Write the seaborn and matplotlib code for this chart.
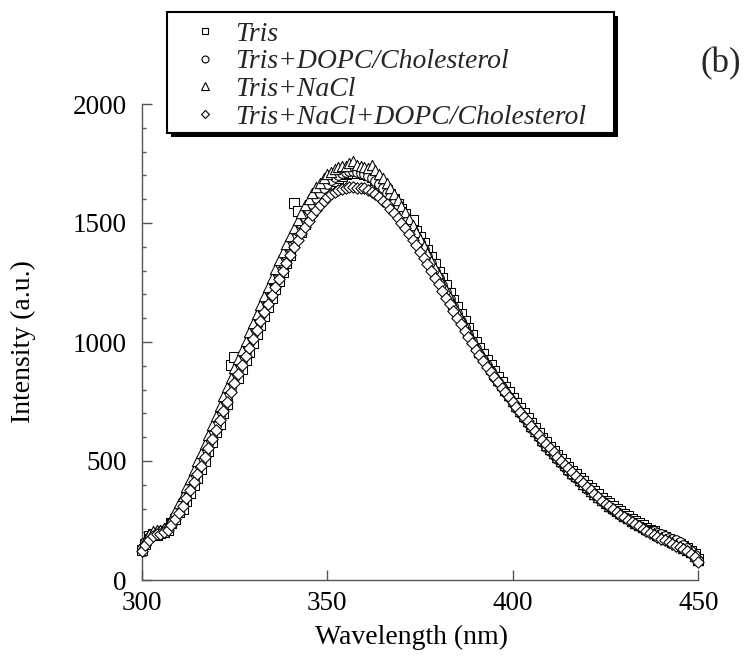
import numpy as np
import pandas as pd
import seaborn as sns
import matplotlib
matplotlib.use("Agg")
import matplotlib.pyplot as plt
from matplotlib.patches import Rectangle
from matplotlib.lines import Line2D

# ---------------- data ----------------
wavelength = list(range(300, 451))

tris = [
    125, 150, 185, 195, 190, 198, 200, 212, 240, 255,
    285, 300, 330, 365, 398, 430, 468, 500, 540, 578,
    620, 655, 700, 738, 905, 935, 850, 885, 925, 960,
    995, 1035, 1070, 1110, 1148, 1185, 1222, 1258, 1295, 1330,
    1365, 1585, 1550, 1462, 1495, 1525, 1552, 1580, 1605, 1628,
    1648, 1662, 1678, 1688, 1698, 1705, 1708, 1712, 1712, 1710,
    1706, 1700, 1692, 1682, 1670, 1656, 1640, 1622, 1602, 1580,
    1558, 1536, 1514, 1512, 1466, 1442, 1414, 1386, 1356, 1326,
    1296, 1268, 1238, 1206, 1176, 1146, 1116, 1088, 1058, 1030,
    1000, 975, 950, 925, 902, 878, 855, 832, 810, 788,
    766, 744, 722, 700, 680, 660, 640, 618, 598, 578,
    560, 542, 525, 508, 492, 475, 460, 444, 430, 415,
    400, 386, 372, 360, 346, 334, 322, 310, 300, 288,
    278, 268, 258, 248, 240, 230, 220, 212, 204, 195,
    187, 180, 172, 165, 158, 150, 142, 134, 122, 108,
    88,
]

tris_dopc = [
    135, 160, 182, 190, 200, 205, 210, 222, 242, 268,
    295, 325, 356, 390, 425, 458, 495, 530, 570, 608,
    648, 690, 728, 770, 808, 848, 884, 922, 958, 996,
    1034, 1070, 1110, 1148, 1186, 1222, 1260, 1296, 1330, 1366,
    1400, 1434, 1466, 1496, 1526, 1555, 1580, 1604, 1626, 1646,
    1664, 1680, 1692, 1702, 1710, 1715, 1718, 1718, 1716, 1712,
    1706, 1698, 1688, 1676, 1662, 1646, 1628, 1608, 1586, 1564,
    1540, 1516, 1492, 1468, 1444, 1420, 1390, 1360, 1330, 1300,
    1270, 1240, 1210, 1180, 1150, 1120, 1090, 1061, 1032, 1003,
    975, 951, 927, 903, 879, 855, 833, 811, 789, 767,
    745, 724, 703, 682, 661, 640, 620, 600, 580, 560,
    542, 525, 508, 491, 475, 459, 443, 428, 413, 398,
    384, 370, 357, 344, 331, 319, 307, 296, 285, 275,
    265, 255, 245, 236, 227, 218, 209, 200, 205, 198,
    192, 185, 178, 172, 168, 160, 148, 135, 120, 104,
    84,
]

tris_nacl = [
    140, 168, 195, 205, 208, 210, 218, 235, 258, 290,
    322, 355, 390, 425, 462, 498, 532, 570, 608, 650,
    690, 730, 772, 812, 850, 890, 928, 965, 1004, 1040,
    1078, 1118, 1156, 1194, 1232, 1270, 1306, 1344, 1378, 1412,
    1446, 1480, 1512, 1544, 1574, 1602, 1626, 1650, 1670, 1690,
    1705, 1716, 1726, 1735, 1740, 1738, 1752, 1760, 1742, 1738,
    1735, 1730, 1745, 1722, 1705, 1688, 1668, 1646, 1622, 1598,
    1572, 1546, 1518, 1490, 1462, 1434, 1404, 1372, 1342, 1312,
    1280, 1250, 1220, 1190, 1160, 1130, 1100, 1072, 1042, 1013,
    985, 960, 936, 912, 888, 864, 842, 820, 798, 776,
    754, 732, 712, 690, 670, 648, 628, 608, 588, 568,
    550, 532, 515, 498, 482, 466, 450, 435, 420, 405,
    390, 376, 363, 350, 337, 325, 313, 302, 291, 281,
    270, 260, 250, 241, 232, 223, 214, 205, 197, 189,
    181, 173, 166, 159, 151, 144, 136, 127, 116, 102,
    84,
]

tris_nacl_dopc = [
    120, 148, 170, 185, 192, 195, 200, 210, 232, 255,
    282, 312, 345, 378, 412, 446, 480, 516, 554, 592,
    632, 672, 712, 750, 790, 828, 866, 902, 940, 976,
    1012, 1050, 1088, 1124, 1160, 1196, 1232, 1266, 1300, 1334,
    1366, 1398, 1428, 1456, 1484, 1510, 1534, 1556, 1576, 1594,
    1608, 1620, 1630, 1638, 1644, 1648, 1650, 1650, 1648, 1646,
    1645, 1638, 1630, 1620, 1608, 1594, 1578, 1560, 1542, 1522,
    1500, 1478, 1455, 1430, 1406, 1380, 1354, 1326, 1298, 1270,
    1242, 1214, 1186, 1158, 1130, 1102, 1075, 1048, 1020, 994,
    968, 944, 920, 896, 874, 852, 830, 808, 788, 768,
    748, 727, 706, 686, 666, 646, 627, 608, 590, 572,
    554, 536, 518, 501, 485, 469, 453, 437, 422, 407,
    392, 377, 362, 348, 334, 321, 309, 297, 286, 275,
    264, 254, 244, 234, 225, 216, 207, 198, 190, 182,
    174, 166, 158, 151, 144, 137, 129, 120, 110, 96,
    76,
]

series_names = ["Tris", "Tris+DOPC/Cholesterol", "Tris+NaCl",
                "Tris+NaCl+DOPC/Cholesterol"]
series_values = [tris, tris_dopc, tris_nacl, tris_nacl_dopc]
series_markers = ["s", "o", "^", "D"]
marker_area = [48, 48, 55, 34]        # plot marker sizes (pt^2)
legend_msize = [5, 5, 5.5, 3.8]      # legend marker sizes (pt)

x_ticks = [300, 350, 400, 450]
y_ticks = [0, 500, 1000, 1500, 2000]

# ---------------- figure ----------------
sns.set_theme(style="ticks")
plt.rcParams["font.family"] = ["Liberation Serif", "DejaVu Serif"]

fig = plt.figure(figsize=(7.49, 6.66), dpi=100)
ax = fig.add_axes([141.7 / 749, 1 - 580 / 666, (698.3 - 141.7) / 749, (580 - 104) / 666])

for i, (name, vals, m, s) in enumerate(zip(series_names, series_values,
                                          series_markers, marker_area)):
    d = pd.DataFrame({"wl": wavelength, "I": vals})
    sns.scatterplot(data=d, x="wl", y="I", marker=m, s=s,
                    color="white", edgecolor="black", linewidth=0.75,
                    legend=False, ax=ax, clip_on=False, zorder=3 + i * 0.1)

ax.set_xlim(300, 450)
ax.set_ylim(0, 2000)
ax.set_xticks(x_ticks)
ax.set_yticks(y_ticks)
ax.set_yticks(np.arange(0, 2001, 100), minor=True)
ax.set_xticklabels([str(v) for v in x_ticks])
ax.set_yticklabels([str(v) for v in y_ticks])

spine_col = "#555555"
for s in ["top", "right"]:
    ax.spines[s].set_visible(False)
for s in ["left", "bottom"]:
    ax.spines[s].set_color(spine_col)
    ax.spines[s].set_linewidth(1.0)

ax.tick_params(axis="both", which="major", direction="in", length=7.5, width=1.0,
               color=spine_col, labelsize=19.5, labelcolor="black")
ax.tick_params(axis="y", which="major", pad=11)
ax.tick_params(axis="x", which="major", pad=8)
ax.tick_params(axis="y", which="minor", direction="in", length=3, width=1.0,
               color=spine_col)
ax.tick_params(axis="x", which="minor", length=0)

ax.set_xlabel("Wavelength (nm)", fontsize=20, color="black")
ax.set_ylabel("Intensity (a.u.)", fontsize=20, labelpad=26, color="black")
ax.xaxis.set_label_coords(0.485, -0.095)

fig.text(721 / 749, 1 - 64 / 666, "(b)", fontsize=25, ha="center", va="center")

# legend box with hard shadow
fig.add_artist(Rectangle((171 / 749, 1 - 137 / 666), 447 / 749, 121.3 / 666,
                         transform=fig.transFigure, facecolor="black",
                         edgecolor="none", zorder=3))
fig.add_artist(Rectangle((167 / 749, 1 - 133 / 666), 447 / 749, 121.3 / 666,
                         transform=fig.transFigure, facecolor="white",
                         edgecolor="black", linewidth=1.5, zorder=4))

handles = [Line2D([], [], linestyle="none", marker=m, markersize=ms,
                  markerfacecolor="white", markeredgecolor="black",
                  markeredgewidth=0.8)
           for m, ms in zip(series_markers, legend_msize)]
leg = fig.legend(handles, series_names, loc="center left",
                 bbox_to_anchor=(191 / 749, 1 - 75.5 / 666),
                 frameon=False, handlelength=1.0, handletextpad=0.58,
                 borderpad=0, borderaxespad=0, labelspacing=0.08,
                 prop={"family": "Liberation Serif", "style": "italic", "size": 20})
leg.set_zorder(5)

fig.savefig("out.png", dpi=100)
